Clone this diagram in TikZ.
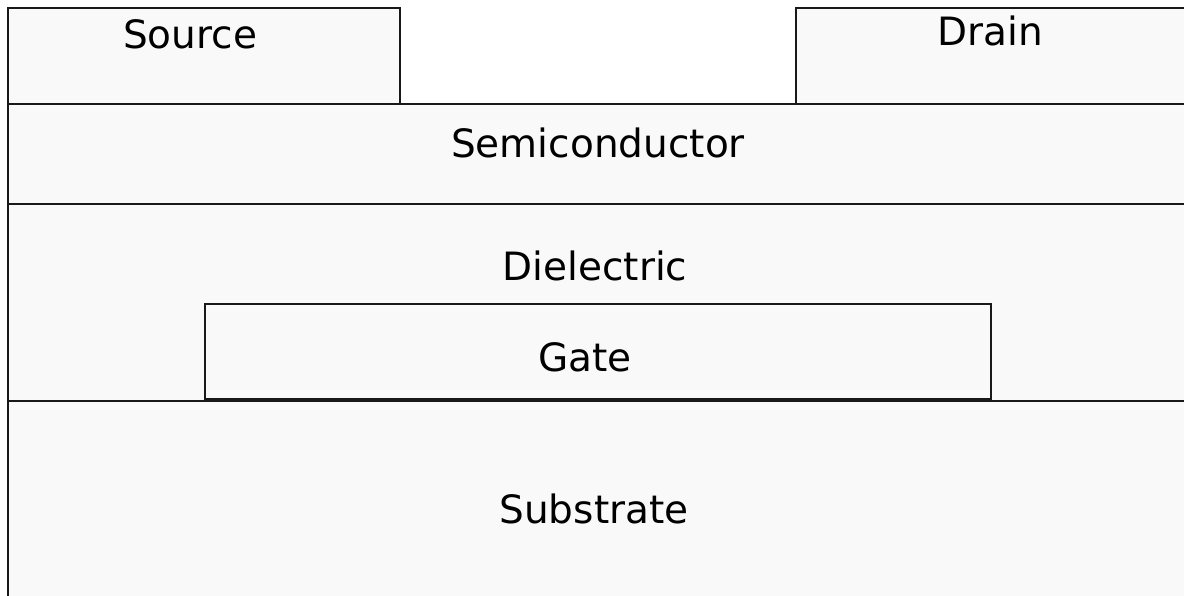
\documentclass[tikz,border=0pt]{standalone}
\usepackage{fontspec}
\setmainfont{DejaVu Sans}
\usepackage{tikz}
\definecolor{layerfill}{HTML}{F9F9F9}

\begin{document}
\begin{tikzpicture}[
        x=1pt, y=-1pt,
        font=\fontsize{39}{46}\selectfont,
        layer/.style={draw=black!90, fill=layerfill, line width=2.4pt},
        lbl/.style={inner sep=0pt, anchor=center}
        ]
        \useasboundingbox (0,0) rectangle (1184,595);
        \clip (0,0) rectangle (1184,595);
        % stack, bottom to top
        \draw[layer] (8,401) rectangle (1200,610);
        \draw[layer] (8,204) rectangle (1200,401);
        \draw[layer] (8,104) rectangle (1200,204);
        \draw[layer] (205,304) rectangle (991,399);
        % contacts
        \draw[layer] (8,8) rectangle (400,104);
        \draw[layer] (796,8) rectangle (1200,104);
        % labels
        \node[lbl] (src)  at (190,34)  {Source};
        \node[lbl] (drn)  at (990,31)  {Drain};
        \node[lbl] (semi) at (598,143) {Semiconductor};
        \node[lbl] (diel) at (595,266) {Dielectric};
        \node[lbl] (gate) at (585,357) {Gate};
        \node[lbl] (sub)  at (594,509) {Substrate};
    \end{tikzpicture}
\end{document}
